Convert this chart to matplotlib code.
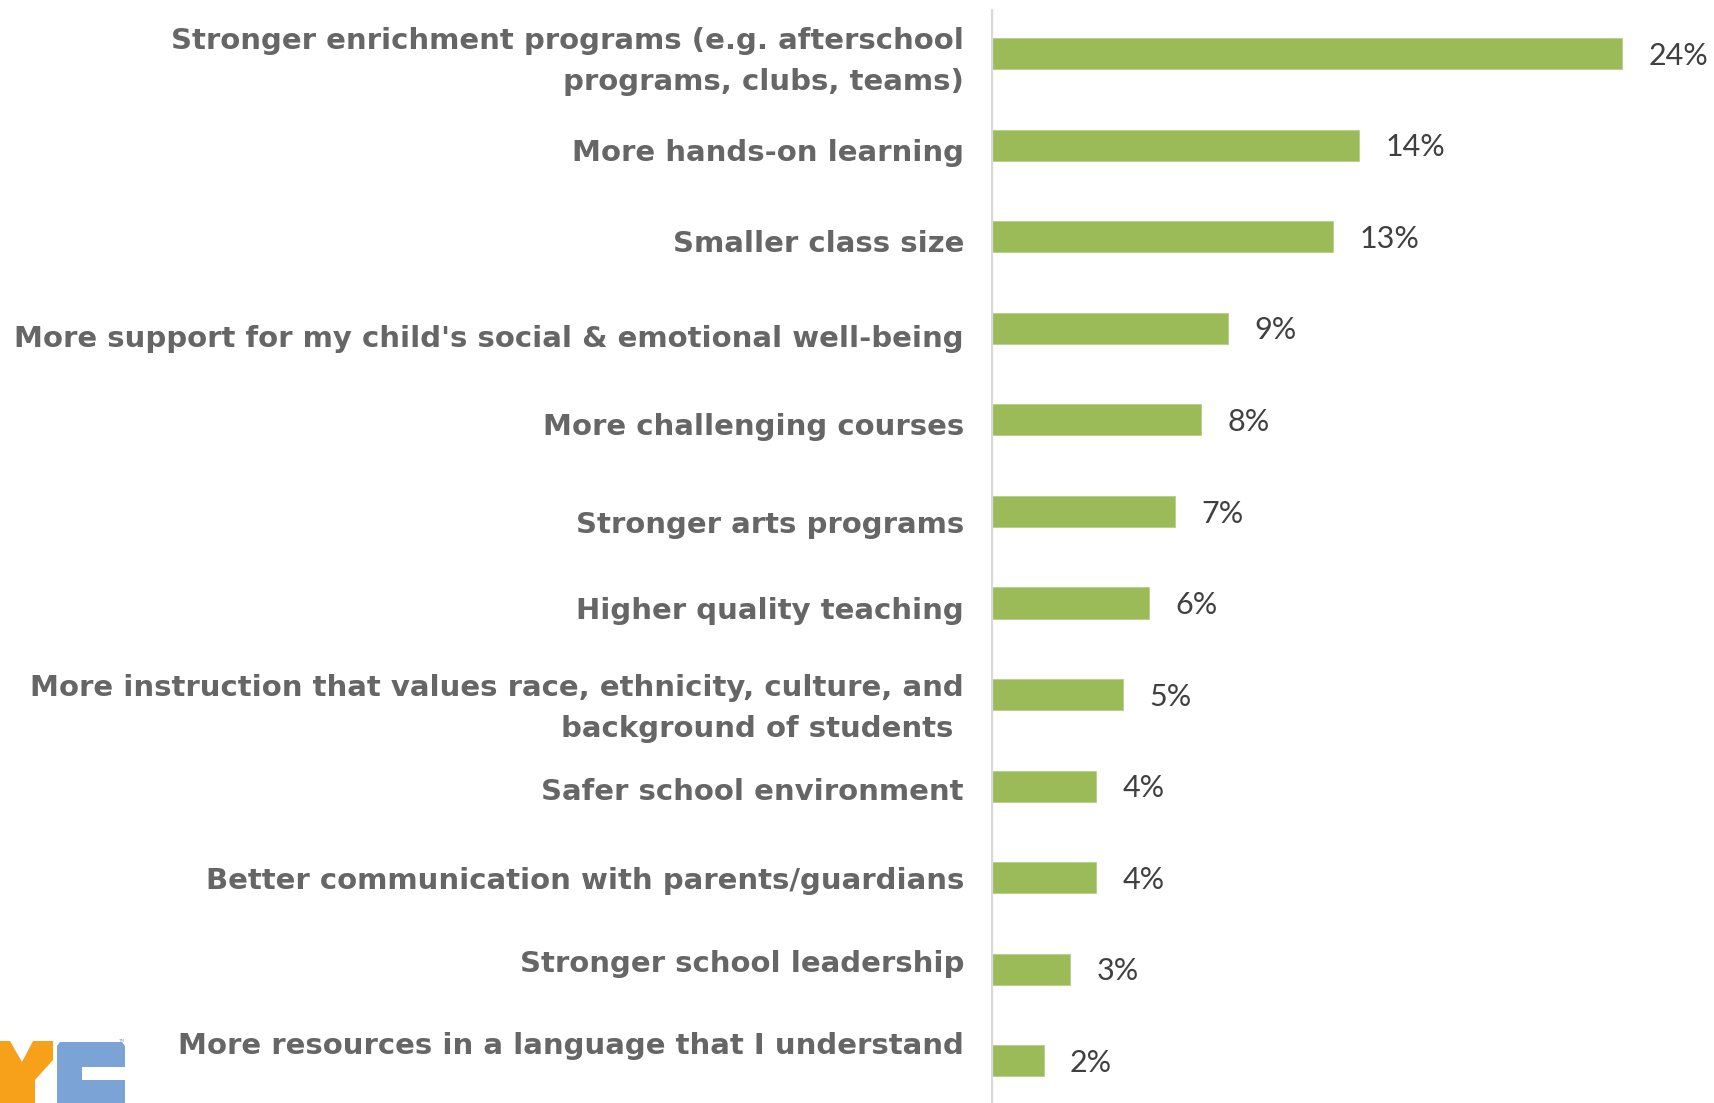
import matplotlib.pyplot as plt
from matplotlib.patches import Polygon

# data
categories = [
    "Stronger enrichment programs (e.g. afterschool\nprograms, clubs, teams)",
    "More hands-on learning",
    "Smaller class size",
    "More support for my child's social & emotional well-being",
    "More challenging courses",
    "Stronger arts programs",
    "Higher quality teaching",
    "More instruction that values race, ethnicity, culture, and\nbackground of students ",
    "Safer school environment",
    "Better communication with parents/guardians",
    "Stronger school leadership",
    "More resources in a language that I understand",
]
values = [24, 14, 13, 9, 8, 7, 6, 5, 4, 4, 3, 2]

# small vertical nudges (pixels, down) of the category labels, as in the original slide
label_shift = [8, 8, 7, 11, 7, 14, 8, 14, 6, 3, -5, -15]

W, H = 1715, 1103
fig = plt.figure(figsize=(W / 100, H / 100), dpi=100)

# background axes in pixel units, for the cut-off logo in the corner
bg = fig.add_axes([0, 0, 1, 1], zorder=0)
bg.set_xlim(0, W)
bg.set_ylim(H, 0)
bg.axis("off")
y_arm = [(0, 1041), (10, 1041), (22, 1062), (33, 1041), (53, 1041), (53, 1060),
         (35, 1080), (35, 1103), (0, 1103)]
bg.add_patch(Polygon(y_arm, closed=True, color="#F7A11A", lw=0))
c_shape = [(60, 1042), (122, 1042), (125, 1046), (125, 1067), (82, 1067), (82, 1080),
           (125, 1080), (125, 1103), (57, 1103), (57, 1046)]
bg.add_patch(Polygon(c_shape, closed=True, color="#7BA3D6", lw=0))
bg.text(118, 1041, "TM", fontsize=3, color="#7BA3D6", ha="left", va="center")

ax = fig.add_axes([991 / W, 0, (W - 991) / W, 1], zorder=1)
ax.patch.set_alpha(0)
pos = list(range(len(values)))
ax.barh(pos, values, height=0.34, color="#9BBB59", edgecolor="#b5cf85", linewidth=0.6)

for i, v in enumerate(values):
    ax.annotate(f"{v}%", xy=(v, i), xytext=(19, -1.5), textcoords="offset points",
                va="center", ha="left", fontsize=22, color="#404040",
                family=["Lato", "DejaVu Sans"])

# category labels, right aligned just left of the axis line
for i, lab in enumerate(categories):
    ax.annotate(lab, xy=(0, i), xycoords=("axes fraction", "data"),
                xytext=(-27, -label_shift[i]), textcoords="offset pixels",
                ha="right", va="center", fontsize=21, fontweight="bold",
                color="#666666", family=["DejaVu Sans"], linespacing=1.62,
                annotation_clip=False)

ax.set_xlim(0, (W - 991) / 26.3)
ax.set_ylim(11.46, -0.585)
ax.set_xticks([])
ax.set_yticks([])
for s in ax.spines.values():
    s.set_visible(False)
ax.axvline(0, ymin=0, ymax=0.991, color="#d9d9d9", lw=2.4)

fig.savefig("out.png", dpi=100)
